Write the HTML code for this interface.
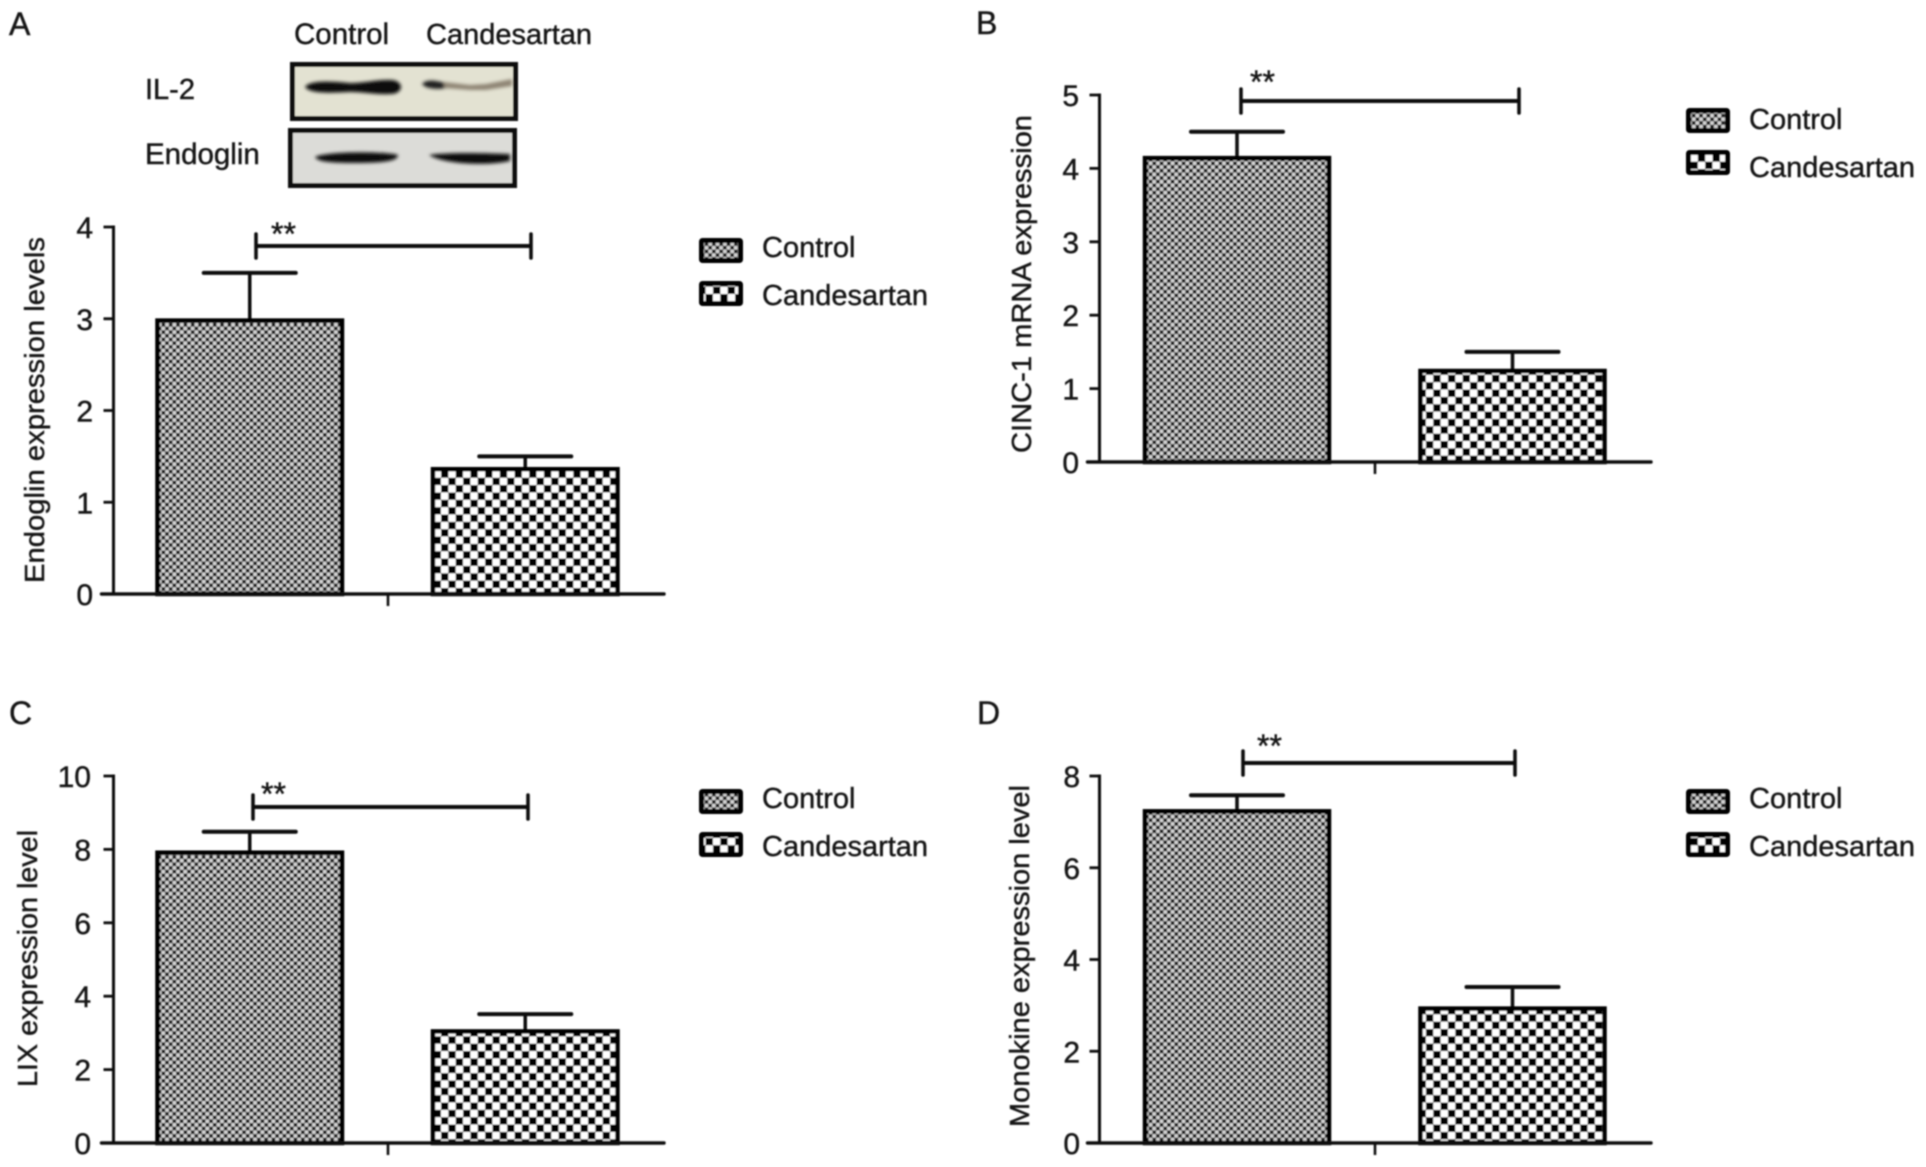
<!DOCTYPE html>
<html lang="en">
<head>
<meta charset="utf-8">
<title>Candesartan expression levels</title>
<style>
html,body{margin:0;padding:0;background:#fff;}
svg{display:block;}
text{font-family:"Liberation Sans",sans-serif;fill:#161616;stroke:#161616;stroke-width:0.45px;}
</style>
</head>
<body>
<svg id="figure" xmlns="http://www.w3.org/2000/svg" width="1926" height="1167" viewBox="0 0 1926 1167">
  <defs>
    <pattern id="fine-check" patternUnits="userSpaceOnUse" width="7.34" height="7.34">
      <rect width="7.34" height="7.34" fill="#d4d4d4"/>
      <rect width="3.67" height="3.67" fill="#1c1c1c"/>
      <rect x="3.67" y="3.67" width="3.67" height="3.67" fill="#1c1c1c"/>
    </pattern>
    <pattern id="coarse-check" patternUnits="userSpaceOnUse" width="14.7" height="14.7">
      <rect width="14.7" height="14.7" fill="#fff"/>
      <rect width="7.35" height="7.35" fill="#000"/>
      <rect x="7.35" y="7.35" width="7.35" height="7.35" fill="#000"/>
    </pattern>
    <filter id="soft" x="-2%" y="-2%" width="104%" height="104%"><feGaussianBlur stdDeviation="0.7"/></filter>
    <filter id="band-blur" x="-20%" y="-60%" width="140%" height="220%"><feGaussianBlur stdDeviation="1.6"/></filter>
  </defs>
  <rect width="1926" height="1167" fill="#fff"/>
  <g id="root" filter="url(#soft)">
    <text x="9" y="35" font-size="32">A</text>
    <text x="976" y="34" font-size="32">B</text>
    <text x="9" y="724" font-size="32">C</text>
    <text x="977" y="724" font-size="32">D</text>

    <g>
      <text x="294" y="44" font-size="29.5">Control</text>
      <text x="426" y="44" font-size="29">Candesartan</text>
      <text x="145" y="99" font-size="29">IL-2</text>
      <text x="145" y="164" font-size="29.5">Endoglin</text>
      <g>
        <rect x="292.5" y="64.5" width="223" height="54" fill="#e3e2d2" stroke="#0a0a0a" stroke-width="5"/>
        <g filter="url(#band-blur)">
          <path d="M305 87 C310 80 330 81 350 83 C365 83 378 79 392 80 C404 81 404 93 392 94 C375 95 365 92 350 92 C330 93 310 94 305 87Z" fill="#0d0d0d"/>
          <path d="M422 84 C426 79 434 80 446 83 L448 88 C436 90 426 89 422 84Z" fill="#222"/>
          <path d="M444 82 L470 85 L486 84 L512 79 L512 86 L486 90 L470 90 L444 88Z" fill="#8f8575"/>
        </g>
      </g>
      <g>
        <rect x="290.5" y="130.5" width="224" height="55" fill="#dcdcd8" stroke="#0a0a0a" stroke-width="5"/>
        <g filter="url(#band-blur)">
          <path d="M315 157 C325 151 385 151 398 155 C398 161 385 163 355 163 C330 163 318 162 315 157Z" fill="#111"/>
          <path d="M429 155 C445 152 490 153 510 154 L510 161 C490 166 445 165 429 155Z" fill="#0d0d0d"/>
        </g>
      </g>
    </g>
    <g id="charts"></g>
  </g>
</svg>
<script>
const categories = ['Control', 'Candesartan'];
const endoglinValues = [2.98, 1.36];
const endoglinErrors = [0.52, 0.14];
const endoglinTicks = [0, 1, 2, 3, 4];
const cincValues = [4.14, 1.24];
const cincErrors = [0.36, 0.26];
const cincTicks = [0, 1, 2, 3, 4, 5];
const lixValues = [7.91, 3.04];
const lixErrors = [0.57, 0.47];
const lixTicks = [0, 2, 4, 6, 8, 10];
const monokineValues = [7.23, 2.93];
const monokineErrors = [0.35, 0.47];
const monokineTicks = [0, 2, 4, 6, 8];
const significanceMark = '**';

const SVG_NS = 'http://www.w3.org/2000/svg';
const chartsRoot = document.getElementById('charts');

function shape(parent, tag, props) {
  const el = document.createElementNS(SVG_NS, tag);
  for (const k in props) el.setAttribute(k, props[k]);
  parent.appendChild(el);
  return el;
}

function drawPanel(p) {
  const g = shape(chartsRoot, 'g', {});
  
  

  const maxTick = p.ticks[p.ticks.length - 1];
  const yScale = function (v) { return p.y0 - (v / maxTick) * (p.y0 - p.yTop); };
  const xScale = function (i) { return p.barStart + i * p.barStep; };
  const fills = ['url(#fine-check)', 'url(#coarse-check)'];

  p.values.forEach(function (v, i) {
    const left = xScale(i);
    const center = left + p.barW / 2;
    const top = yScale(v);
    const capY = yScale(v + p.errors[i]);

    const stem = shape(g, 'line', {x1: center, x2: center, y1: capY, y2: top, stroke: '#0a0a0a', 'stroke-width': 3.5});
    
    

    const cap = shape(g, 'line', {x1: center - 46, x2: center + 46, y1: capY, y2: capY, stroke: '#0a0a0a', 'stroke-width': 4, 'stroke-linecap': 'round'});
    
    

    const bar = shape(g, 'rect', {x: left, y: top, width: p.barW, height: p.y0 - top, fill: fills[i], stroke: '#050505', 'stroke-width': 4.5});
    
    
  });

  const yAxis = shape(g, 'line', {x1: p.axisX, x2: p.axisX, y1: yScale(maxTick) - 1.5, y2: p.y0, stroke: '#111', 'stroke-width': 3});
  
  

  const xAxis = shape(g, 'line', {x1: p.axisX - 12, x2: p.axisEnd, y1: p.y0, y2: p.y0, stroke: '#111', 'stroke-width': 3.4, 'stroke-linecap': 'round'});
  
  

  const xTick = shape(g, 'line', {x1: p.xTick, x2: p.xTick, y1: p.y0, y2: p.y0 + 12, stroke: '#111', 'stroke-width': 2.6});
  
  

  p.ticks.forEach(function (t) {
    const y = yScale(t);
    const mark = shape(g, 'line', {x1: p.axisX - 10, x2: p.axisX, y1: y, y2: y, stroke: '#111', 'stroke-width': 2.8});
    
    

    const label = shape(g, 'text', {x: p.tickRight, y: y + 11, 'text-anchor': 'end', 'font-size': 30});
    label.textContent = String(t);
    
    
  });

  const title = shape(g, 'text', {
    transform: 'translate(' + p.titleX + ' ' + p.titleBottom + ') rotate(-90)',
    x: 0, y: 0, 'font-size': 28, textLength: p.titleLen, lengthAdjust: 'spacingAndGlyphs'
  });
  title.textContent = p.title;
  
  

  const bracketH = shape(g, 'line', {x1: p.brL, x2: p.brR, y1: p.brY, y2: p.brY, stroke: '#111', 'stroke-width': 4});
  
  

  const bracketL = shape(g, 'line', {x1: p.brL, x2: p.brL, y1: p.brY - 12, y2: p.brY + 12, stroke: '#111', 'stroke-width': 3.6, 'stroke-linecap': 'round'});
  
  

  const bracketR = shape(g, 'line', {x1: p.brR, x2: p.brR, y1: p.brY - 12, y2: p.brY + 12, stroke: '#111', 'stroke-width': 3.6, 'stroke-linecap': 'round'});
  
  

  const stars = shape(g, 'text', {x: p.starX, y: p.starY + 15, 'font-size': 32});
  stars.textContent = significanceMark;
  
  

  categories.forEach(function (c, i) {
    const sy = p.legendY[i];
    const swatch = shape(g, 'rect', {x: p.legendX + 2.5, y: sy + 2.5, width: 39, height: 20, rx: 1, fill: fills[i], stroke: '#050505', 'stroke-width': 5});
    
    

    const text = shape(g, 'text', {x: p.legendX + 63, y: sy + p.legendTextDy[i], 'font-size': 29});
    text.textContent = c;
    
    
  });
}

drawPanel({
  id: 'endoglin', values: endoglinValues, errors: endoglinErrors, ticks: endoglinTicks,
  title: 'Endoglin expression levels', axisX: 113.5, axisEnd: 664, y0: 594, yTop: 227,
  barStart: 157.5, barStep: 275.5, barW: 184.5, xTick: 388, tickRight: 93,
  titleX: 44, titleBottom: 583, titleLen: 346,
  brL: 256, brR: 531, brY: 246, starX: 271, starY: 230,
  legendX: 699, legendY: [238, 281], legendTextDy: [19, 24]
});
drawPanel({
  id: 'cinc', values: cincValues, errors: cincErrors, ticks: cincTicks,
  title: 'CINC-1 mRNA expression', axisX: 1099.5, axisEnd: 1651, y0: 462, yTop: 95,
  barStart: 1145, barStep: 275.5, barW: 184, xTick: 1375, tickRight: 1079,
  titleX: 1031, titleBottom: 453, titleLen: 338,
  brL: 1241, brR: 1519, brY: 101, starX: 1250, starY: 78,
  legendX: 1686, legendY: [108, 150], legendTextDy: [21, 27]
});
drawPanel({
  id: 'lix', values: lixValues, errors: lixErrors, ticks: lixTicks,
  title: 'LIX expression level', axisX: 113.5, axisEnd: 664, y0: 1143, yTop: 776,
  barStart: 157.5, barStep: 275.5, barW: 184.5, xTick: 388, tickRight: 91,
  titleX: 37, titleBottom: 1087, titleLen: 257,
  brL: 253, brR: 528, brY: 807, starX: 261, starY: 790,
  legendX: 699, legendY: [789, 832], legendTextDy: [19, 24]
});
drawPanel({
  id: 'monokine', values: monokineValues, errors: monokineErrors, ticks: monokineTicks,
  title: 'Monokine expression level', axisX: 1099.5, axisEnd: 1651, y0: 1143, yTop: 776,
  barStart: 1145, barStep: 275.5, barW: 184, xTick: 1375, tickRight: 1080,
  titleX: 1029, titleBottom: 1127, titleLen: 342,
  brL: 1243, brR: 1515, brY: 763, starX: 1257, starY: 742,
  legendX: 1686, legendY: [789, 832], legendTextDy: [19, 24]
});
</script>
</body>
</html>
